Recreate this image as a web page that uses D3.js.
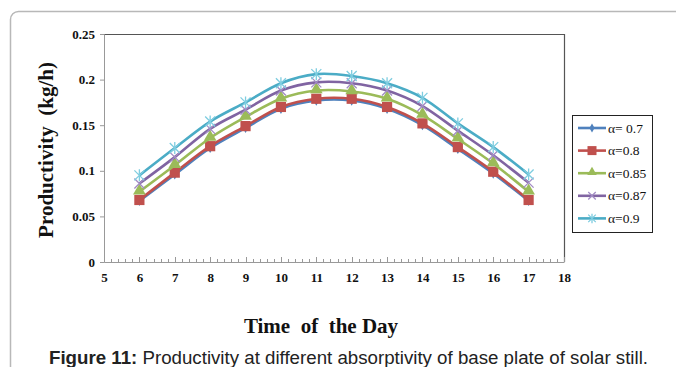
<!DOCTYPE html>
<html>
<head>
<meta charset="utf-8">
<script src="https://cdn.jsdelivr.net/npm/d3@7"></script>
<style>
  body { margin: 0; background: #fff; }
  svg { display: block; }
  text { white-space: pre; }
</style>
</head>
<body>
<svg id="chart" width="676" height="367"></svg>
<script>
// ---- data ----
var hours = [6, 7, 8, 9, 10, 11, 12, 13, 14, 15, 16, 17]
var seriesNames = ["\u03b1= 0.7", "\u03b1=0.8", "\u03b1=0.85", "\u03b1=0.87", "\u03b1=0.9"]
var a70 = [0.067, 0.096, 0.125, 0.147, 0.168, 0.177, 0.177, 0.168, 0.150, 0.124, 0.097, 0.067]
var a80 = [0.068, 0.098, 0.127, 0.149, 0.170, 0.179, 0.179, 0.170, 0.152, 0.126, 0.099, 0.068]
var a85 = [0.077, 0.106, 0.136, 0.159, 0.179, 0.188, 0.187, 0.179, 0.161, 0.135, 0.108, 0.077]
var a87 = [0.086, 0.115, 0.146, 0.167, 0.188, 0.197, 0.196, 0.188, 0.171, 0.144, 0.117, 0.087]
var a90 = [0.095, 0.125, 0.154, 0.175, 0.196, 0.206, 0.204, 0.196, 0.180, 0.152, 0.126, 0.096]
var yTicks = [0, 0.05, 0.1, 0.15, 0.2, 0.25]
var xTicks = [5, 6, 7, 8, 9, 10, 11, 12, 13, 14, 15, 16, 17, 18]
var colors = ["#4f81bd", "#c0504d", "#9bbb59", "#8064a2", "#4bacc6"]
var markers = ["diamond", "square", "triangle", "x", "star"]

var allSeries = [a70, a80, a85, a87, a90]

var svg = d3.select("#chart")
// note: "top" is taken by window.top, so use other names
var pL = 104, pR = 564, pT = 34, pB = 262

var x = d3.scaleLinear().domain([5, 18]).range([pL, pR])
var y = d3.scaleLinear().domain([0, 0.25]).range([pB, pT])

var serif = "'Liberation Serif','Times New Roman',serif"

// outer rounded frame (page box)
svg.append("rect")
  .attr("x", 10.5).attr("y", 11.5)
  .attr("width", 700).attr("height", 400)
  .attr("rx", 8)
  .attr("fill", "none")
  .attr("stroke", "#b8b8b8")
  .attr("stroke-width", 1.5)

// plot frame: top + right lines
svg.append("path")
  .attr("d", "M" + pL + "," + (pT + 0.5) + "H" + (pR + 0.5) + "V" + pB)
  .attr("fill", "none")
  .attr("stroke", "#555")
  .attr("stroke-width", 1.2)

// y axis
var yAxis = d3.axisLeft(y).tickValues(yTicks).tickSize(4)
  .tickFormat(function(d){ return d == 0 ? "0" : String(+d.toFixed(2)) })
var gy = svg.append("g").attr("transform", "translate(" + pL + ",0)").call(yAxis)
gy.select(".domain").attr("stroke", "#999")
gy.selectAll(".tick line").attr("stroke", "#999")
gy.selectAll("text")
  .attr("x", -9)
  .style("font-family", serif)
  .style("font-weight", "bold").style("font-size", "13px").attr("fill", "#111")

// x axis: minor ticks pointing up
var minor = d3.range(5, 18.001, 0.2)
svg.append("g").selectAll("line").data(minor).enter().append("line")
  .attr("x1", function(d){ return Math.round(x(d)) + 0.5 })
  .attr("x2", function(d){ return Math.round(x(d)) + 0.5 })
  .attr("y1", pB)
  .attr("y2", function(d){ return Math.abs(d - Math.round(d)) < 1e-6 ? pB - 5 : pB - 3 })
  .attr("stroke", "#999")
var xAxis = d3.axisBottom(x).tickValues(xTicks).tickSize(0).tickFormat(d3.format("d"))
var gx = svg.append("g").attr("transform", "translate(0," + pB + ")").call(xAxis)
gx.select(".domain").attr("stroke", "#999")
gx.selectAll("text")
  .attr("y", 11)
  .style("font-family", serif)
  .style("font-weight", "bold").style("font-size", "13px").attr("fill", "#111")

// titles
svg.append("text")
  .attr("transform", "translate(53,150) rotate(-90)")
  .attr("text-anchor", "middle")
  .style("font-family", serif)
  .style("font-weight", "bold").style("font-size", "21px").attr("fill", "#111")
  .text("Productivity  (kg/h)")
svg.append("text")
  .attr("x", 321).attr("y", 333)
  .attr("text-anchor", "middle")
  .style("font-family", serif)
  .style("font-weight", "bold").style("font-size", "21px").attr("fill", "#111")
  .text("Time  of  the Day")

var cap = svg.append("text")
  .attr("x", 49).attr("y", 364)
  .style("font-family", "'Liberation Sans',Arial,sans-serif")
  .style("font-size", "18.7px").attr("fill", "#222")
cap.append("tspan").style("font-weight", "bold").text("Figure 11:")
cap.append("tspan").text(" Productivity at different absorptivity of base plate of solar still.")

// markers
function drawMarker(g, type, cx, cy, color, s) {
  if (type == "diamond") {
    g.append("path").attr("d", d3.symbol(d3.symbolDiamond, 30 * s)())
      .attr("transform", "translate(" + cx + "," + cy + ")").attr("fill", color)
  } else if (type == "square") {
    g.append("rect").attr("x", cx - 6 * s).attr("y", cy - 6 * s)
      .attr("width", 12 * s).attr("height", 12 * s).attr("fill", color)
  } else if (type == "triangle") {
    g.append("path").attr("d", d3.symbol(d3.symbolTriangle, 70 * s * s)())
      .attr("transform", "translate(" + cx + "," + (cy - 1) + ")").attr("fill", color)
  } else if (type == "x") {
    var r = 5 * s
    g.append("path").attr("d", "M" + (cx - r) + "," + (cy - r) + "L" + (cx + r) + "," + (cy + r) +
      "M" + (cx - r) + "," + (cy + r) + "L" + (cx + r) + "," + (cy - r))
      .attr("stroke", "#a28cc4").attr("stroke-width", 1.3)
  } else if (type == "star") {
    var r = 5 * s
    g.append("path").attr("d", "M" + (cx - r) + "," + (cy - r) + "L" + (cx + r) + "," + (cy + r) +
      "M" + (cx - r) + "," + (cy + r) + "L" + (cx + r) + "," + (cy - r) +
      "M" + cx + "," + (cy - r - 1) + "L" + cx + "," + (cy + r + 1))
      .attr("stroke", "#7fcde0").attr("stroke-width", 1.3)
  }
}

var line = d3.line()
  .x(function(d){ return x(d[0]) })
  .y(function(d){ return y(d[1]) })
  .curve(d3.curveCatmullRom.alpha(0))

allSeries.forEach(function(vals, i) {
  var pts = hours.map(function(h, j){ return [h, vals[j]] })
  var g = svg.append("g")
  g.append("path").datum(pts).attr("d", line)
    .attr("fill", "none").attr("stroke", colors[i]).attr("stroke-width", 2.6)
  pts.forEach(function(p){
    drawMarker(g, markers[i], x(p[0]), y(p[1]), colors[i], i == 1 ? 0.85 : 1)
  })
})

// legend
var lg = svg.append("g")
lg.append("rect").attr("x", 572.5).attr("y", 115.5).attr("width", 80).attr("height", 117)
  .attr("fill", "#fff").attr("stroke", "#222").attr("stroke-width", 1)
seriesNames.forEach(function(name, i) {
  var ly = 128 + i * 22.6
  lg.append("line").attr("x1", 578).attr("x2", 606).attr("y1", ly).attr("y2", ly)
    .attr("stroke", colors[i]).attr("stroke-width", 2.6)
  drawMarker(lg, markers[i], 592, ly, colors[i], 0.75)
  lg.append("text").attr("x", 608).attr("y", ly + 4.5)
    .style("font-family", serif)
    .style("font-size", "13.5px").attr("fill", "#111")
    .text(name)
})
</script>
</body>
</html>
